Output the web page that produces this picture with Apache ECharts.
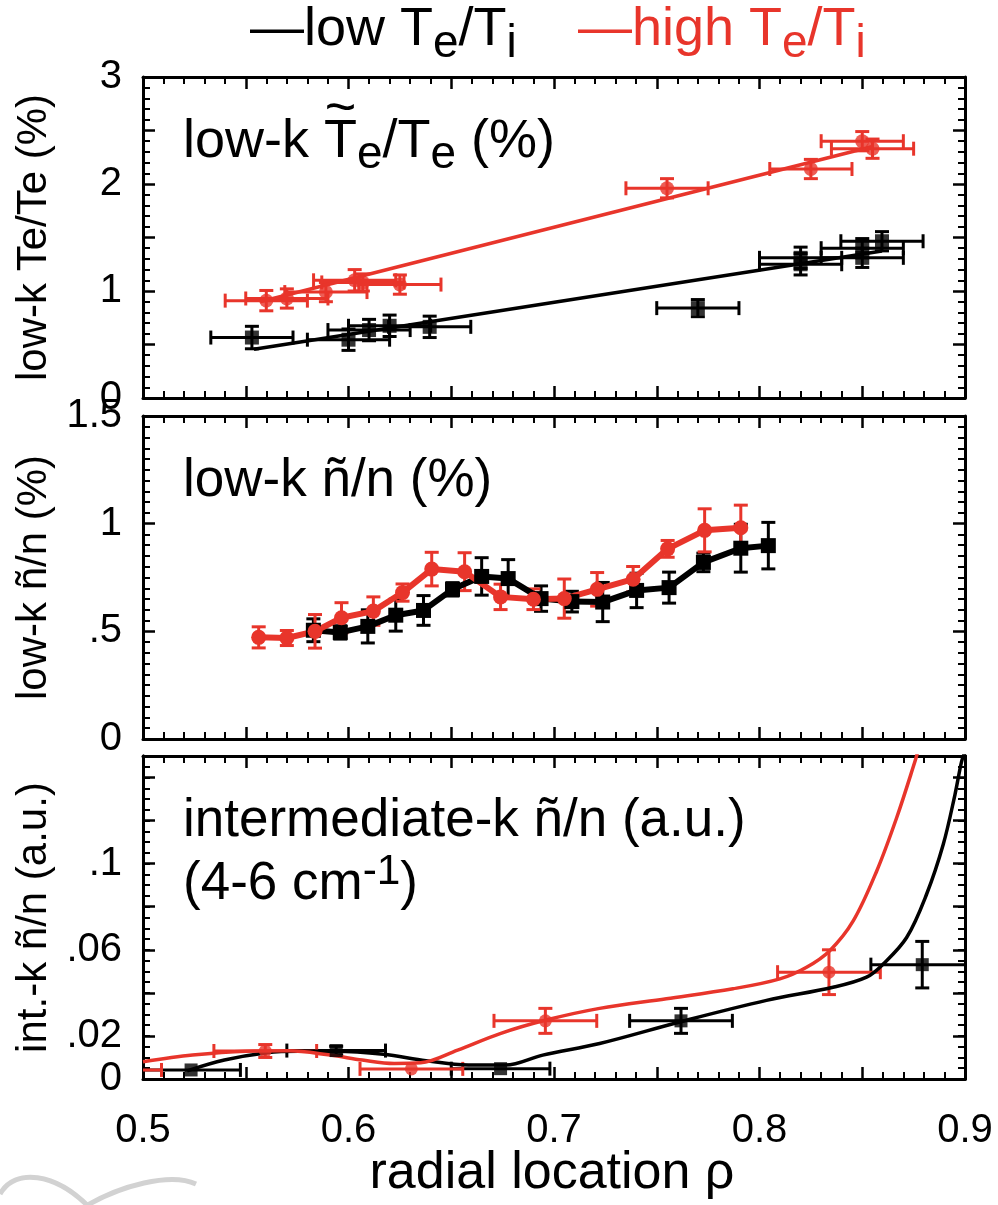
<!DOCTYPE html>
<html><head><meta charset="utf-8">
<script src="https://cdn.jsdelivr.net/npm/echarts@6/dist/echarts.min.js"></script>
<style>html,body{margin:0;padding:0;background:#fff}#c{width:998px;height:1205px}</style>
</head><body><div id="c"></div>
<script>
// ---------- DATA ----------
// Panel 1: low-k Te~/Te (%)
const teRhoHigh    = [0.560, 0.570, 0.589, 0.603, 0.607, 0.625, 0.755, 0.825, 0.850, 0.855];
const teValHigh    = [0.91, 0.93, 0.99, 1.10, 1.08, 1.06, 1.96, 2.14, 2.40, 2.33];
const teRhoErrHigh = [0.02, 0.02, 0.02, 0.02, 0.02, 0.02, 0.02, 0.02, 0.02, 0.02];
const teValErrHigh = [0.095, 0.09, 0.09, 0.10, 0.08, 0.09, 0.09, 0.09, 0.09, 0.09];
const teRhoLow     = [0.553, 0.600, 0.610, 0.620, 0.6395, 0.770, 0.820, 0.820, 0.850, 0.850, 0.8596];
const teValLow     = [0.565, 0.545, 0.635, 0.675, 0.665, 0.84, 1.31, 1.25, 1.40, 1.31, 1.465];
const teRhoErrLow  = [0.02, 0.02, 0.02, 0.02, 0.02, 0.02, 0.02, 0.02, 0.02, 0.02, 0.02];
const teValErrLow  = [0.105, 0.10, 0.10, 0.10, 0.10, 0.08, 0.10, 0.10, 0.09, 0.09, 0.09];
const teFitHighRho = [0.557, 0.855];
const teFitHighVal = [0.90, 2.35];
const teFitLowRho  = [0.554, 0.8596];
const teFitLowVal  = [0.455, 1.374];

// Panel 2: low-k n~/n (%)
const lnRhoHigh = [0.5563, 0.570, 0.5837, 0.5966, 0.6121, 0.6263, 0.6405, 0.6565, 0.674, 0.690, 0.705, 0.721, 0.7385, 0.7553, 0.7733, 0.7909];
const lnValHigh = [0.472, 0.469, 0.50, 0.563, 0.594, 0.68, 0.789, 0.777, 0.66, 0.649, 0.652, 0.695, 0.742, 0.883, 0.969, 0.981];
const lnErrHigh = [0.049, 0.035, 0.078, 0.07, 0.066, 0.04, 0.078, 0.088, 0.059, 0.048, 0.091, 0.078, 0.059, 0.039, 0.10, 0.105];
const lnRhoLow  = [0.5829, 0.596, 0.6094, 0.623, 0.6365, 0.6506, 0.6648, 0.6777, 0.6937, 0.7087, 0.7237, 0.7402, 0.756, 0.7727, 0.7909, 0.8043];
const lnValLow  = [0.505, 0.495, 0.523, 0.575, 0.597, 0.695, 0.755, 0.745, 0.652, 0.638, 0.636, 0.69, 0.703, 0.82, 0.886, 0.898];
const lnErrLow  = [0.053, 0.031, 0.077, 0.074, 0.069, 0.031, 0.087, 0.088, 0.059, 0.048, 0.091, 0.08, 0.072, 0.043, 0.111, 0.108];

// Panel 3: intermediate-k n~/n (a.u.)
const ikRhoHigh    = [0.484, 0.5595, 0.6306, 0.6958, 0.8338];
const ikValHigh    = [0.0042, 0.013, 0.0047, 0.027, 0.0496];
const ikRhoErrHigh = [0.025, 0.025, 0.025, 0.025, 0.025];
const ikValErrHigh = [0, 0.003, 0, 0.0058, 0.0104];
const ikRhoLow     = [0.5234, 0.594, 0.674, 0.7618, 0.8792];
const ikValLow     = [0.0042, 0.0132, 0.0048, 0.027, 0.0531];
const ikRhoErrLow  = [0.024, 0.024, 0.024, 0.025, 0.025];
const ikValErrLow  = [0, 0.002, 0, 0.0058, 0.0108];
const ikCurveLowRho  = [0.5215, 0.5396, 0.5603, 0.5757, 0.5938, 0.617, 0.6377, 0.6583, 0.6764, 0.6945, 0.7222, 0.7612, 0.8034, 0.8358, 0.8521, 0.8602, 0.8716, 0.8813, 0.8894, 0.8951, 0.8983, 0.9];
const ikCurveLowVal  = [0.0038, 0.0088, 0.0122, 0.0129, 0.0129, 0.0115, 0.0085, 0.0065, 0.0065, 0.0111, 0.0165, 0.0265, 0.0365, 0.0426, 0.0473, 0.0534, 0.0657, 0.0858, 0.1089, 0.132, 0.1473, 0.152];
const ikCurveHighRho = [0.5, 0.5241, 0.5499, 0.5706, 0.5912, 0.6067, 0.6222, 0.6351, 0.6531, 0.6738, 0.6971, 0.7222, 0.7547, 0.7871, 0.8099, 0.8229, 0.8342, 0.8456, 0.857, 0.8667, 0.8756, 0.877];
const ikCurveHighVal = [0.008, 0.0111, 0.0129, 0.0131, 0.0111, 0.0088, 0.0072, 0.0075, 0.0134, 0.0211, 0.0276, 0.0328, 0.0373, 0.0419, 0.0465, 0.0519, 0.0596, 0.0734, 0.0965, 0.1212, 0.1473, 0.152];

// Tick labels
const xTickLabels  = {500: '0.5', 600: '0.6', 700: '0.7', 800: '0.8', 900: '0.9'};
const y1TickLabels = {0: '0', 1000: '1', 2000: '2', 3000: '3'};
const y2TickLabels = {0: '0', 500: '.5', 1000: '1', 1500: '1.5'};
const y3TickLabels = {0: '0', 20: '.02', 60: '.06', 100: '.1'};

// ---------- STYLE ----------
const RED = '#e8352b', BLK = '#000000';
const FONT = "'Liberation Sans', Arial, Helvetica, sans-serif";
const chart = echarts.init(document.getElementById('c'), null, {renderer: 'canvas'});

const lab = map => v => { const k = Math.round(v * 1000); return map[k] !== undefined ? map[k] : ''; };

const grids = [
  {left: 143, top: 77, width: 822, height: 321, outerBoundsMode: 'none', containLabel: false},
  {left: 143, top: 416, width: 822, height: 323, outerBoundsMode: 'none', containLabel: false},
  {left: 143, top: 756, width: 822, height: 323, outerBoundsMode: 'none', containLabel: false}
];

const lineAx = {show: true, onZero: false, lineStyle: {color: '#000', width: 3}};
const tickAx = {show: true, inside: true, length: 12, lineStyle: {color: '#000', width: 2.5}};
const minorAx = (n) => ({show: n > 0, splitNumber: n, length: 7, lineStyle: {color: '#000', width: 2}});

const xAxes = [];
[0, 1, 2].forEach(gi => {
  const base = {type: 'value', gridIndex: gi, min: 0.5, max: 0.9, interval: 0.05,
    axisLine: lineAx, axisTick: tickAx, minorTick: minorAx(5),
    splitLine: {show: false}, minorSplitLine: {show: false}};
  xAxes.push(Object.assign({}, base, {position: 'bottom',
    axisLabel: {show: gi === 2, margin: 32, fontSize: 40, fontFamily: FONT, color: '#000',
      formatter: lab(xTickLabels), showMinLabel: true, showMaxLabel: true}}));
  xAxes.push(Object.assign({}, base, {position: 'top', axisLabel: {show: false}}));
});

const yLabelStyle = (map) => ({show: true, margin: 21, fontSize: 40, fontFamily: FONT, color: '#000',
  formatter: lab(map), padding: [0, 0, 16, 0], showMinLabel: true, showMaxLabel: true});
const yName = (name, gap) => ({name: name, nameLocation: 'middle', nameGap: gap,
  nameTextStyle: {fontSize: 42, fontFamily: FONT, color: '#000'}});

const yAxes = [
  Object.assign({type: 'value', gridIndex: 0, min: 0, max: 3, interval: 0.5, position: 'left',
    axisLine: lineAx, axisTick: tickAx, minorTick: minorAx(5), splitLine: {show: false},
    axisLabel: yLabelStyle(y1TickLabels)}, yName('low-k Te/Te (%)', 88)),
  {type: 'value', gridIndex: 0, min: 0, max: 3, interval: 0.5, position: 'right',
    axisLine: lineAx, axisTick: tickAx, minorTick: minorAx(5), splitLine: {show: false}, axisLabel: {show: false}},
  Object.assign({type: 'value', gridIndex: 1, min: 0, max: 1.5, interval: 0.5, position: 'left',
    axisLine: lineAx, axisTick: tickAx, minorTick: minorAx(10), splitLine: {show: false},
    axisLabel: yLabelStyle(y2TickLabels)}, yName('low-k ñ/n (%)', 80)),
  {type: 'value', gridIndex: 1, min: 0, max: 1.5, interval: 0.5, position: 'right',
    axisLine: lineAx, axisTick: tickAx, minorTick: minorAx(10), splitLine: {show: false}, axisLabel: {show: false}},
  Object.assign({type: 'value', gridIndex: 2, min: 0, max: 0.15, interval: 0.02, position: 'left',
    axisLine: lineAx, axisTick: tickAx, minorTick: {show: false}, splitLine: {show: false},
    axisLabel: yLabelStyle(y3TickLabels)}, yName('int.-k ñ/n (a.u.)', 76)),
  {type: 'value', gridIndex: 2, min: 0, max: 0.15, interval: 0.02, position: 'right',
    axisLine: lineAx, axisTick: tickAx, minorTick: {show: false}, splitLine: {show: false}, axisLabel: {show: false}},
  {type: 'value', gridIndex: 2, min: 0, max: 0.15, interval: 0.005, position: 'left',
    axisLine: lineAx, axisTick: Object.assign({}, tickAx, {length: 7, lineStyle: {color: '#000', width: 2}}),
    splitLine: {show: false}, axisLabel: {show: false}},
  {type: 'value', gridIndex: 2, min: 0, max: 0.15, interval: 0.005, position: 'right',
    axisLine: lineAx, axisTick: Object.assign({}, tickAx, {length: 7, lineStyle: {color: '#000', width: 2}}),
    splitLine: {show: false}, axisLabel: {show: false}}
];

function pairs(a, b) { return a.map((v, i) => [v, b[i]]); }

function errSeries(gi, rho, val, erho, evl, color, lw) {
  const data = rho.map((r, i) => [r, val[i], erho[i], evl[i]]);
  return {type: 'custom', xAxisIndex: gi * 2, yAxisIndex: gi * 2, data: data, clip: true, z: 3,
    encode: {x: 0, y: 1}, silent: true,
    renderItem: function (params, api) {
      const x = api.value(0), y = api.value(1), ex = api.value(2), ey = api.value(3);
      const c = api.coord([x, y]);
      const cap = 7;
      const st = {stroke: color, lineWidth: lw, fill: null};
      const ch = [];
      if (ex > 0) {
        const a = api.coord([x - ex, y]), b = api.coord([x + ex, y]);
        ch.push({type: 'line', shape: {x1: a[0], y1: c[1], x2: b[0], y2: c[1]}, style: st});
        ch.push({type: 'line', shape: {x1: a[0], y1: c[1] - cap, x2: a[0], y2: c[1] + cap}, style: st});
        ch.push({type: 'line', shape: {x1: b[0], y1: c[1] - cap, x2: b[0], y2: c[1] + cap}, style: st});
      }
      if (ey > 0) {
        const a = api.coord([x, y + ey]), b = api.coord([x, y - ey]);
        ch.push({type: 'line', shape: {x1: c[0], y1: a[1], x2: c[0], y2: b[1]}, style: st});
        ch.push({type: 'line', shape: {x1: c[0] - cap, y1: a[1], x2: c[0] + cap, y2: a[1]}, style: st});
        ch.push({type: 'line', shape: {x1: c[0] - cap, y1: b[1], x2: c[0] + cap, y2: b[1]}, style: st});
      }
      return {type: 'group', children: ch};
    }};
}

function markers(gi, rho, val, color, symbol, size) {
  return {type: 'scatter', xAxisIndex: gi * 2, yAxisIndex: gi * 2, data: pairs(rho, val),
    symbol: symbol, symbolSize: size, itemStyle: {color: color}, z: 4, silent: true, clip: true};
}

function line(gi, rho, val, color, width, smooth, symbol, size) {
  return {type: 'line', xAxisIndex: gi * 2, yAxisIndex: gi * 2, data: pairs(rho, val),
    lineStyle: {color: color, width: width}, itemStyle: {color: color},
    symbol: symbol || 'none', symbolSize: size || 0, showSymbol: !!symbol,
    smooth: smooth || false, z: 3, silent: true, clip: true, animation: false};
}

const series = [
  // Panel 1
  line(0, teFitLowRho, teFitLowVal, BLK, 3.5),
  line(0, teFitHighRho, teFitHighVal, RED, 3.5),
  errSeries(0, teRhoLow, teValLow, teRhoErrLow, teValErrLow, BLK, 3),
  errSeries(0, teRhoHigh, teValHigh, teRhoErrHigh, teValErrHigh, RED, 3),
  markers(0, teRhoLow, teValLow, BLK, 'rect', 14),
  markers(0, teRhoHigh, teValHigh, RED, 'circle', 14),
  // Panel 2
  errSeries(1, lnRhoLow, lnValLow, lnRhoLow.map(() => 0), lnErrLow, BLK, 3),
  line(1, lnRhoLow, lnValLow, BLK, 6, false, 'rect', 15),
  errSeries(1, lnRhoHigh, lnValHigh, lnRhoHigh.map(() => 0), lnErrHigh, RED, 3),
  line(1, lnRhoHigh, lnValHigh, RED, 6, false, 'circle', 15),
  // Panel 3
  line(2, ikCurveLowRho, ikCurveLowVal, BLK, 3.5, 0.35),
  line(2, ikCurveHighRho, ikCurveHighVal, RED, 3.5, 0.35),
  errSeries(2, ikRhoLow, ikValLow, ikRhoErrLow, ikValErrLow, BLK, 3),
  errSeries(2, ikRhoHigh, ikValHigh, ikRhoErrHigh, ikValErrHigh, RED, 3),
  markers(2, ikRhoLow, ikValLow, BLK, 'rect', 13),
  markers(2, ikRhoHigh, ikValHigh, RED, 'circle', 13)
];

// ---------- TEXT HELPERS ----------
const mctx = document.createElement('canvas').getContext('2d');
function measure(t, size) { mctx.font = size + 'px ' + FONT; return mctx.measureText(t).width; }
function textEl(t, x, baseline, size, color, align) {
  return {type: 'text', x: x, y: baseline - 0.31 * size, silent: true, z: 10,
    style: {text: t, fontSize: size, fontFamily: FONT, fill: color,
      align: align || 'left', verticalAlign: 'middle', textAlign: align || 'left', textVerticalAlign: 'middle'}};
}
// pieces: [text, sizeFactor, dy]
function run(x, baseline, size, color, pieces, out, marks) {
  let cx = x;
  pieces.forEach((p, i) => {
    const s = size * (p[1] || 1);
    const w = measure(p[0], s);
    out.push(textEl(p[0], cx, baseline + (p[2] || 0), s, color));
    if (marks) marks[i] = {x: cx, w: w};
    cx += w;
  });
  return cx;
}

const graphics = [];
// Legend
run(250, 47, 54, BLK, [['—low T'], ['e', 0.85, 12], ['/T'], ['i', 0.85, 12]], graphics);
run(578, 47, 54, RED, [['—high T'], ['e', 0.85, 12], ['/T'], ['i', 0.85, 12]], graphics);
// Panel 1 annotation with tilde over T
const m1 = {};
run(183, 159, 54, BLK, [['low-k '], ['T'], ['e', 0.85, 11], ['/T'], ['e', 0.85, 11], [' (%)']], graphics, m1);
graphics.push(textEl('~', m1[1].x + m1[1].w / 2, 127, 54, BLK, 'center'));
// Panel 2 annotation
run(183, 498, 53, BLK, [['low-k ñ/n (%)']], graphics);
// Panel 3 annotation
run(183, 838, 53, BLK, [['intermediate-k ñ/n (a.u.)']], graphics);
run(183, 901, 53, BLK, [['(4-6 cm'], ['-1', 0.8, -16], [')']], graphics);
// X axis title
graphics.push(textEl('radial location ρ', 552, 1190, 52, BLK, 'center'));
// faint watermark logo (bottom-left)
graphics.push({type: 'bezierCurve', silent: true, z: 1,
  shape: {x1: 0, y1: 1194, cpx1: 15, cpy1: 1168, cpx2: 55, cpy2: 1172, x2: 90, y2: 1208},
  style: {stroke: '#d2d2d2', lineWidth: 5, fill: null}});
graphics.push({type: 'bezierCurve', silent: true, z: 1,
  shape: {x1: 86, y1: 1206, cpx1: 120, cpy1: 1186, cpx2: 170, cpy2: 1172, x2: 196, y2: 1184},
  style: {stroke: '#d2d2d2', lineWidth: 5, fill: null}});

chart.setOption({
  animation: false,
  backgroundColor: '#ffffff',
  textStyle: {fontFamily: FONT},
  grid: grids,
  xAxis: xAxes,
  yAxis: yAxes,
  series: series,
  graphic: {elements: graphics}
});
</script></body></html>
